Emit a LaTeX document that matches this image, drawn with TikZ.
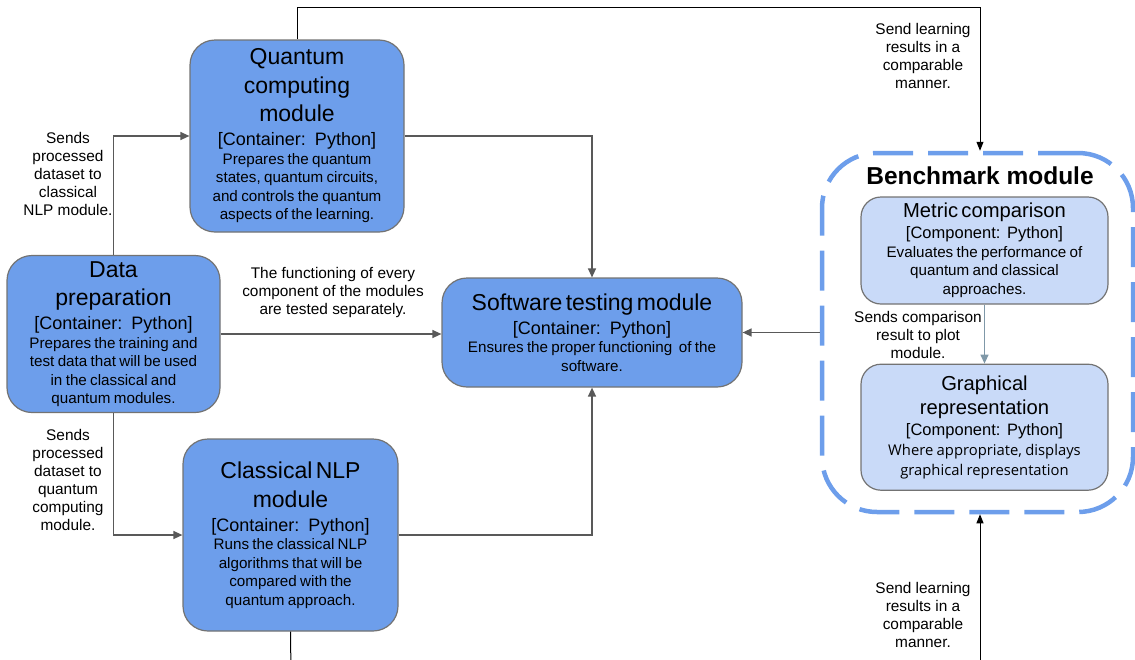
\documentclass[tikz,border=0pt]{standalone}
\usepackage{fontspec}
\setmainfont{Liberation Sans}
\newfontfamily\notefont{Open Sans}
\usetikzlibrary{positioning, arrows.meta}
\definecolor{modblue}{HTML}{6D9EEB}
\definecolor{compblue}{HTML}{C9DAF8}
\definecolor{edgegray}{HTML}{595959}
\definecolor{linkblue}{HTML}{7F98A8}
\newcommand{\modtitle}[1]{{\fontsize{23}{28.5}\selectfont #1\par}}
\newcommand{\modkind}[1]{{\fontsize{18}{24}\selectfont [#1:\hspace{0.5em}Python]\par}}
\newcommand{\moddesc}[1]{{\fontsize{15.2}{18.5}\selectfont #1\par}}
\newcommand{\comptitle}[1]{{\fontsize{20.2}{24}\selectfont #1\par}}
\newcommand{\compkind}[1]{{\fontsize{16.5}{21}\selectfont [#1:\hspace{0.4em}Python]\par}}

\begin{document}
\begin{tikzpicture}[x=1pt, y=-1pt]
\tikzstyle{module}=[rectangle, rounded corners=25pt, draw=black!55, line width=1.2pt, fill=modblue, align=center, inner sep=0pt]
\tikzstyle{component}=[rectangle, rounded corners=20pt, draw=black!55, line width=1.2pt, fill=compblue, align=center, inner sep=0pt, minimum width=247pt, text width=240pt]
\tikzstyle{group}=[rectangle, rounded corners=55pt, draw=modblue, line width=4.5pt, dash pattern=on 40pt off 15pt, minimum width=311pt, minimum height=359pt]
\tikzstyle{note}=[align=center, inner sep=0pt, font=\fontsize{15.4}{18}\selectfont]
\tikzstyle{connect}=[draw=edgegray, line width=1.3pt, -{Triangle[length=9pt, width=8pt]}]
\tikzstyle{feed}=[draw=black, line width=1pt, -{Triangle[length=9pt, width=7pt]}]
\useasboundingbox (0,0) rectangle (1135,659);

% modules
\node[module, minimum width=214pt, minimum height=192pt, text width=208pt] (quantum) at (297,136)
  {\modtitle{Quantum\\computing\\module}\modkind{Container}\moddesc{Prepares the quantum\\states, quantum circuits,\\and controls the quantum\\aspects of the learning.}};
\node[module, minimum width=213pt, minimum height=157pt, text width=208pt] (data) at (113.5,334)
  {\modtitle{Data\\preparation}\modkind{Container}\moddesc{Prepares the training and\\test data that will be used\\in the classical and\\quantum modules.}};
\node[module, minimum width=215pt, minimum height=192pt, text width=208pt] (classical) at (290.5,535)
  {\modtitle{Classical NLP\\module}\modkind{Container}\moddesc{Runs the classical NLP\\algorithms that will be\\compared with the\\quantum approach.}};
\node[module, minimum width=300pt, minimum height=109pt, text width=294pt] (testing) at (592,332.5)
  {\modtitle{Software testing module}\modkind{Container}\moddesc{Ensures the proper functioning \ of the\\software.}};

% benchmark group
\node[group] (bench) at (977.5,332.5) {};
\node[font=\bfseries\fontsize{24.5}{28}\selectfont, inner sep=0pt] (benchtitle) at (980,176) {Benchmark module};
\node[component, minimum height=107pt] (metric) at (984.5,250.5)
  {\comptitle{Metric comparison}\compkind{Component}\moddesc{Evaluates the performance of\\quantum and classical\\approaches.}};
\node[component, minimum height=126pt] (graph) [below=59pt of metric]
  {\comptitle{Graphical\\representation}\compkind{Component}{\notefont\fontsize{14.8}{20}\selectfont Where appropriate, displays\\graphical representation\par}};

% labels
\node[note] (lblquantum) at (68,174) {Sends\\processed\\dataset to\\classical\\NLP module.};
\node[note] (lblclassical) at (68,480) {Sends\\processed\\dataset to\\quantum\\computing\\module.};
\node[note] (lbltest) at (333,293) {The functioning of every\\component of the modules\\are tested separately.};
\node[note] (lbltop) at (923,56) {Send learning\\results in a\\comparable\\manner.};
\node[note] (lblbottom) at (923,615) {Send learning\\results in a\\comparable\\manner.};
\node[note] (lblmetric) at (918,335) {Sends comparison\\result to plot\\module.};

\coordinate (outleft) at (291,675);
\coordinate (outright) at (980,675);

% connectors
\draw[connect] (data.north) |- (quantum.west);
\draw[connect] (data.south) |- (classical.west);
\draw[connect] (data.east) -- (data.east -| testing.west);
\draw[connect] (quantum.east) -| (testing.north);
\draw[connect] (classical.east) -| (testing.south);
\draw[connect] (bench.west) -- (testing.east);
\draw[connect, draw=linkblue] (metric.south) -- (graph.north);
\draw[feed] (quantum.north) -- ++(0,-32) -| ([xshift=2.5pt]bench.north);
\draw[draw=black, line width=1pt] (classical.south) -- (outleft);
\draw[feed] (outright) -- ([xshift=2.5pt]bench.south);
\end{tikzpicture}
\end{document}
